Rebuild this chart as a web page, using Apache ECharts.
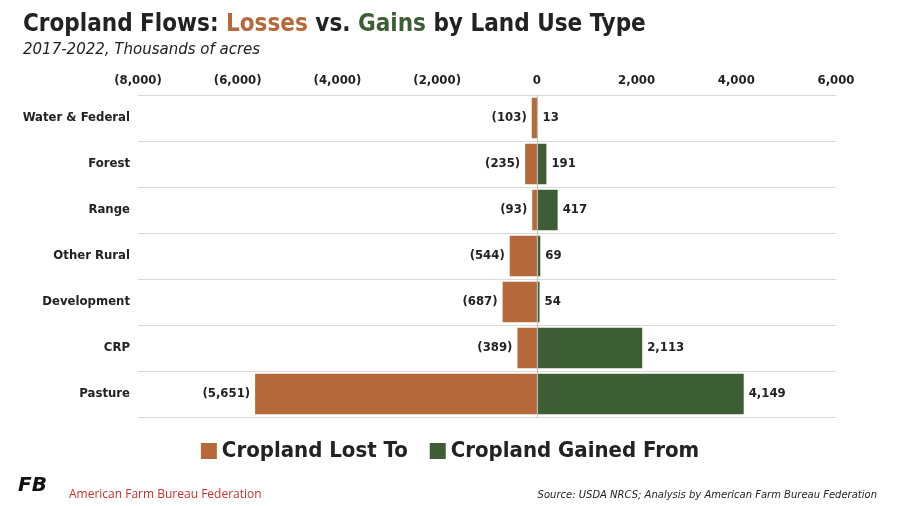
<!DOCTYPE html>
<html><head><meta charset="utf-8">
<script src="https://cdn.jsdelivr.net/npm/echarts@6/dist/echarts.min.js"></script>
<style>html,body{margin:0;background:#fff}#c{width:900px;height:506px}</style>
</head><body><div id="c"></div>
<script>
const categories=["Water & Federal","Forest","Range","Other Rural","Development","CRP","Pasture"];
const lost=[-103,-235,-93,-544,-687,-389,-5651];
const gained=[13,191,417,69,54,2113,4149];
const fmt=v=>v<0?'('+Math.abs(v).toLocaleString('en-US')+')':v.toLocaleString('en-US');
const F='DejaVu Sans Condensed, DejaVu Sans';
const c=echarts.init(document.getElementById('c'));
c.setOption({
 animation:false,
 title:[{text:'{a|Cropland Flows: }{l|Losses}{a| vs. }{g|Gains}{a| by Land Use Type}',left:18,top:8,
   textStyle:{rich:{a:{fontSize:24,fontWeight:'bold',color:'#222',fontFamily:F},
   l:{fontSize:24,fontWeight:'bold',color:'#b5693a',fontFamily:F},
   g:{fontSize:24,fontWeight:'bold',color:'#3d5e35',fontFamily:F}}}},
  {text:'2017-2022, Thousands of acres',left:18,top:38,textStyle:{fontSize:15,fontStyle:'italic',fontWeight:'normal',color:'#222',fontFamily:'DejaVu Sans'}},
  {text:'American Farm Bureau Federation',left:64,top:484,textStyle:{fontSize:12,fontWeight:'normal',color:'#c8312d',fontFamily:'Open Sans'}},
  {text:'Source: USDA NRCS; Analysis by American Farm Bureau Federation',right:18,top:485,textStyle:{fontSize:10,fontStyle:'italic',fontWeight:'normal',color:'#222',fontFamily:'DejaVu Sans'}}],
 graphic:[{type:'text',left:18,top:476,style:{text:'FB',font:'italic bold 20px DejaVu Sans',fill:'#111'}}],
 legend:{bottom:39,left:'center',itemWidth:16,itemHeight:16,itemGap:22,icon:'rect',
  textStyle:{fontSize:22,fontWeight:'bold',color:'#222',fontFamily:F}},
 grid:{left:138,right:64,top:95,bottom:89},
 xAxis:{type:'value',position:'top',min:-8000,max:6000,interval:2000,
  axisLabel:{formatter:fmt,fontSize:13,fontWeight:'bold',color:'#222',fontFamily:F},
  splitLine:{show:false},axisLine:{show:false},axisTick:{show:false}},
 yAxis:{type:'category',data:categories,inverse:true,
  axisLabel:{fontSize:13,fontWeight:'bold',color:'#222',margin:8,fontFamily:F},
  axisTick:{show:false},axisLine:{show:false},
  splitLine:{show:true,lineStyle:{color:'#d9d9d9'}}},
 series:[
  {name:'Cropland Lost To',type:'bar',stack:'s',data:lost,barWidth:'88%',itemStyle:{color:'#b5693a'},
   label:{show:true,position:'left',formatter:p=>fmt(p.value),fontSize:13,fontWeight:'bold',color:'#222',fontFamily:F},
   markLine:{silent:true,symbol:'none',label:{show:false},lineStyle:{color:'#bbb',type:'solid',width:1},data:[{xAxis:0}]}},
  {name:'Cropland Gained From',type:'bar',stack:'s',data:gained,barWidth:'88%',itemStyle:{color:'#3d5e35'},
   label:{show:true,position:'right',formatter:p=>fmt(p.value),fontSize:13,fontWeight:'bold',color:'#222',fontFamily:F}}
 ]
});
</script></body></html>
